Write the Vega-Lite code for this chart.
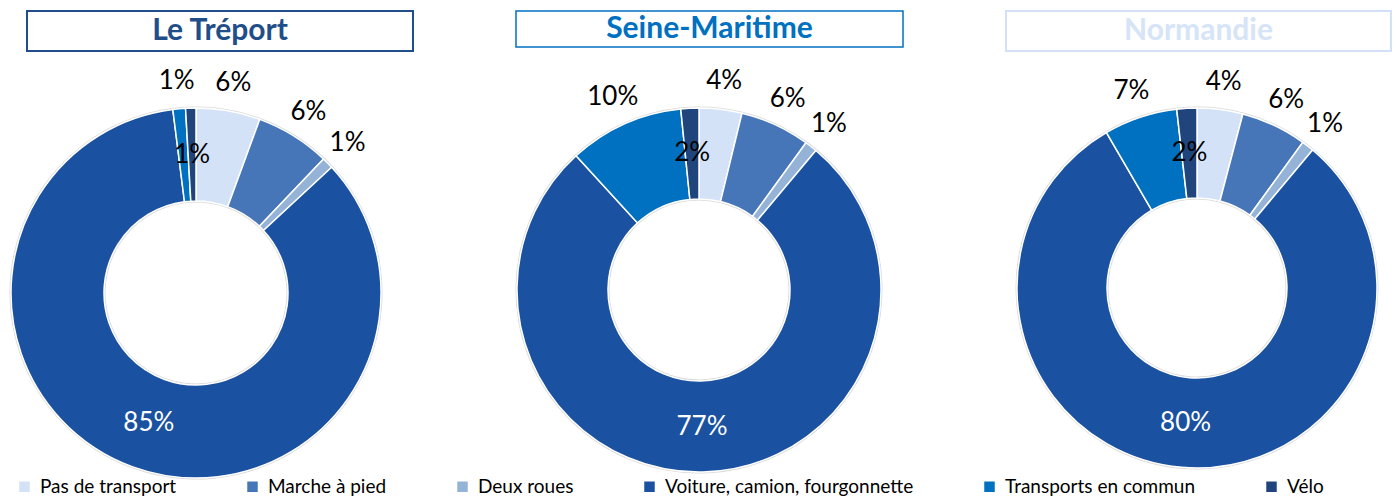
{
  "$schema": "https://vega.github.io/schema/vega-lite/v6.json",
  "padding": {"left": 8, "top": 10, "right": 0, "bottom": 0},
  "background": "white",
  "bounds": "flush",
  "datasets": {
    "parts": [
      {"region": "Le Tréport", "ordre": 1, "mode": "Pas de transport", "valeur": 5.6, "etiquette": "6%"},
      {"region": "Le Tréport", "ordre": 2, "mode": "Marche à pied", "valeur": 6.5, "etiquette": "6%"},
      {"region": "Le Tréport", "ordre": 3, "mode": "Deux roues", "valeur": 1.0, "etiquette": "1%"},
      {"region": "Le Tréport", "ordre": 4, "mode": "Voiture, camion, fourgonnette", "valeur": 84.9, "etiquette": "85%"},
      {"region": "Le Tréport", "ordre": 5, "mode": "Transports en commun", "valeur": 1.1, "etiquette": "1%"},
      {"region": "Le Tréport", "ordre": 6, "mode": "Vélo", "valeur": 0.9, "etiquette": "1%"},
      {"region": "Seine-Maritime", "ordre": 1, "mode": "Pas de transport", "valeur": 3.8, "etiquette": "4%"},
      {"region": "Seine-Maritime", "ordre": 2, "mode": "Marche à pied", "valeur": 6.2, "etiquette": "6%"},
      {"region": "Seine-Maritime", "ordre": 3, "mode": "Deux roues", "valeur": 1.1, "etiquette": "1%"},
      {"region": "Seine-Maritime", "ordre": 4, "mode": "Voiture, camion, fourgonnette", "valeur": 77.1, "etiquette": "77%"},
      {"region": "Seine-Maritime", "ordre": 5, "mode": "Transports en commun", "valeur": 10.2, "etiquette": "10%"},
      {"region": "Seine-Maritime", "ordre": 6, "mode": "Vélo", "valeur": 1.6, "etiquette": "2%"},
      {"region": "Normandie", "ordre": 1, "mode": "Pas de transport", "valeur": 4.1, "etiquette": "4%"},
      {"region": "Normandie", "ordre": 2, "mode": "Marche à pied", "valeur": 5.9, "etiquette": "6%"},
      {"region": "Normandie", "ordre": 3, "mode": "Deux roues", "valeur": 1.1, "etiquette": "1%"},
      {"region": "Normandie", "ordre": 4, "mode": "Voiture, camion, fourgonnette", "valeur": 80.5, "etiquette": "80%"},
      {"region": "Normandie", "ordre": 5, "mode": "Transports en commun", "valeur": 6.6, "etiquette": "7%"},
      {"region": "Normandie", "ordre": 6, "mode": "Vélo", "valeur": 1.8, "etiquette": "2%"}
    ],
    "regions": [
      {"region": "Le Tréport"},
      {"region": "Seine-Maritime"},
      {"region": "Normandie"}
    ]
  },
  "spacing": 97,
  "vconcat": [
    {
      "spacing": 10,
      "bounds": "flush",
      "hconcat": [
        {
          "data": {"name": "regions"},
          "transform": [{"filter": "datum.region === 'Le Tréport'"}],
          "width": 6, "height": 40,
          "view": {"stroke": null},
          "mark": {"type": "text"},
          "encoding": {"text": {"value": ""}}
        },
        {
          "spacing": 103,
          "bounds": "flush",
          "hconcat": [
            {
              "data": {"name": "regions"},
              "transform": [{"filter": "datum.region === 'Le Tréport'"}],
              "width": 386, "height": 40,
              "view": {"stroke": "#1F4E88", "strokeWidth": 2},
              "mark": {"type": "text", "font": "Lato", "fontWeight": "bold", "fontSize": 30, "color": "#1F4E88"},
              "encoding": {"text": {"field": "region"}}
            },
            {
              "data": {"name": "regions"},
              "transform": [{"filter": "datum.region === 'Seine-Maritime'"}],
              "width": 387, "height": 36,
              "view": {"stroke": "#0070C0", "strokeWidth": 1.5},
              "mark": {"type": "text", "font": "Lato", "fontWeight": "bold", "fontSize": 30, "color": "#0070C0"},
              "encoding": {"text": {"field": "region"}}
            },
            {
              "data": {"name": "regions"},
              "transform": [{"filter": "datum.region === 'Normandie'"}],
              "width": 385, "height": 40,
              "view": {"stroke": "#D2E1F5", "strokeWidth": 2},
              "mark": {"type": "text", "font": "Lato", "fontWeight": "bold", "fontSize": 30, "color": "#D6E4F7"},
              "encoding": {"text": {"field": "region"}}
            }
          ]
        }
      ]
    },
    {
      "spacing": 136,
      "bounds": "flush",
      "hconcat": [
        {
          "data": {"name": "parts"},
          "transform": [{"filter": "datum.region === 'Le Tréport'"}],
          "width": 370, "height": 370,
          "encoding": {
            "theta": {"field": "valeur", "type": "quantitative", "stack": true},
            "order": {"field": "ordre", "type": "quantitative"}
          },
          "layer": [
            {
              "mark": {"type": "arc", "innerRadius": 90.5, "outerRadius": 186.5, "color": "#D9D9D9"}
            },
            {
              "mark": {"type": "arc", "innerRadius": 92, "outerRadius": 185, "stroke": "white", "strokeWidth": 1.5},
              "encoding": {"color": {"field": "mode", "type": "nominal", "scale": {"domain": ["Pas de transport", "Marche à pied", "Deux roues", "Voiture, camion, fourgonnette", "Transports en commun", "Vélo"], "range": ["#D3E2F6", "#4676B8", "#95B3D7", "#1A51A0", "#0070C0", "#1F457C"]}}}
            },
            {
              "mark": {"type": "text", "radius": 213, "fontSize": 26, "font": "Lato", "color": "black"},
              "encoding": {
                "detail": {"field": "mode", "type": "nominal"},
                "text": {"condition": {"test": "datum.mode === 'Voiture, camion, fourgonnette' || datum.mode === 'Vélo'", "value": ""}, "field": "etiquette"}
              }
            },
            {
              "mark": {"type": "text", "radius": 138, "fontSize": 26, "font": "Lato"},
              "encoding": {
                "detail": {"field": "mode", "type": "nominal"},
                "text": {"condition": {"test": "datum.mode === 'Voiture, camion, fourgonnette' || datum.mode === 'Vélo'", "field": "etiquette"}, "value": ""},
                "color": {"condition": {"test": "datum.mode === 'Voiture, camion, fourgonnette'", "value": "white"}, "value": "black"}
              }
            }
          ]
        },
        {
          "data": {"name": "parts"},
          "transform": [{"filter": "datum.region === 'Seine-Maritime'"}],
          "width": 364, "height": 364,
          "encoding": {
            "theta": {"field": "valeur", "type": "quantitative", "stack": true},
            "order": {"field": "ordre", "type": "quantitative"}
          },
          "layer": [
            {
              "mark": {"type": "arc", "innerRadius": 89.5, "outerRadius": 183.5, "color": "#D9D9D9"}
            },
            {
              "mark": {"type": "arc", "innerRadius": 91, "outerRadius": 182, "stroke": "white", "strokeWidth": 1.5},
              "encoding": {"color": {"field": "mode", "type": "nominal", "scale": {"domain": ["Pas de transport", "Marche à pied", "Deux roues", "Voiture, camion, fourgonnette", "Transports en commun", "Vélo"], "range": ["#D3E2F6", "#4676B8", "#95B3D7", "#1A51A0", "#0070C0", "#1F457C"]}}}
            },
            {
              "mark": {"type": "text", "radius": 211, "fontSize": 26, "font": "Lato", "color": "black"},
              "encoding": {
                "detail": {"field": "mode", "type": "nominal"},
                "text": {"condition": {"test": "datum.mode === 'Voiture, camion, fourgonnette' || datum.mode === 'Vélo'", "value": ""}, "field": "etiquette"}
              }
            },
            {
              "mark": {"type": "text", "radius": 137, "fontSize": 26, "font": "Lato"},
              "encoding": {
                "detail": {"field": "mode", "type": "nominal"},
                "text": {"condition": {"test": "datum.mode === 'Voiture, camion, fourgonnette' || datum.mode === 'Vélo'", "field": "etiquette"}, "value": ""},
                "color": {"condition": {"test": "datum.mode === 'Voiture, camion, fourgonnette'", "value": "white"}, "value": "black"}
              }
            }
          ]
        },
        {
          "data": {"name": "parts"},
          "transform": [{"filter": "datum.region === 'Normandie'"}],
          "width": 360, "height": 360,
          "encoding": {
            "theta": {"field": "valeur", "type": "quantitative", "stack": true},
            "order": {"field": "ordre", "type": "quantitative"}
          },
          "layer": [
            {
              "mark": {"type": "arc", "innerRadius": 88.5, "outerRadius": 181.5, "color": "#D9D9D9"}
            },
            {
              "mark": {"type": "arc", "innerRadius": 90, "outerRadius": 180, "stroke": "white", "strokeWidth": 1.5},
              "encoding": {"color": {"field": "mode", "type": "nominal", "scale": {"domain": ["Pas de transport", "Marche à pied", "Deux roues", "Voiture, camion, fourgonnette", "Transports en commun", "Vélo"], "range": ["#D3E2F6", "#4676B8", "#95B3D7", "#1A51A0", "#0070C0", "#1F457C"]}}}
            },
            {
              "mark": {"type": "text", "radius": 208, "fontSize": 26, "font": "Lato", "color": "black"},
              "encoding": {
                "detail": {"field": "mode", "type": "nominal"},
                "text": {"condition": {"test": "datum.mode === 'Voiture, camion, fourgonnette' || datum.mode === 'Vélo'", "value": ""}, "field": "etiquette"}
              }
            },
            {
              "mark": {"type": "text", "radius": 135, "fontSize": 26, "font": "Lato"},
              "encoding": {
                "detail": {"field": "mode", "type": "nominal"},
                "text": {"condition": {"test": "datum.mode === 'Voiture, camion, fourgonnette' || datum.mode === 'Vélo'", "field": "etiquette"}, "value": ""},
                "color": {"condition": {"test": "datum.mode === 'Voiture, camion, fourgonnette'", "value": "white"}, "value": "black"}
              }
            }
          ]
        }
      ]
    }
  ],
  "resolve": {"scale": {"color": "shared"}},
  "config": {
    "view": {"stroke": null},
    "font": "Lato",
    "legend": {
      "orient": "none",
      "legendX": 4,
      "legendY": 466,
      "direction": "horizontal",
      "title": null,
      "symbolType": "square",
      "symbolSize": 110,
      "symbolStrokeWidth": 0,
      "labelFontSize": 19,
      "labelFont": "Lato",
      "labelColor": "black",
      "labelLimit": 400,
      "labelOffset": 6,
      "columnPadding": 66
    }
  }
}
